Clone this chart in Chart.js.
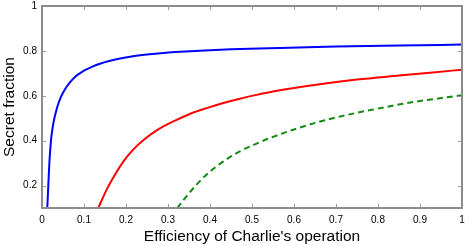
<!DOCTYPE html>
<html>
<head>
<meta charset="utf-8">
<script src="https://cdn.jsdelivr.net/npm/chart.js@4/dist/chart.umd.min.js"></script>
<style>
html,body{margin:0;padding:0;background:#fff;}
#wrap{width:474px;height:246px;}
</style>
</head>
<body>
<div id="wrap"><canvas id="c" width="474" height="246"></canvas></div>
<script>
// Data
const blueX = [0.0126,0.0150,0.0175,0.0214,0.0246,0.028,0.033,0.038,0.0444,0.051,0.0587,0.068,0.0786,0.090,0.102,0.120,0.138,0.160,0.186,0.220,0.250,0.290,0.329,0.400,0.450,0.567,0.700,0.850,1.0];
const blueY = [0.1,0.200,0.300,0.400,0.449,0.487,0.527,0.560,0.592,0.617,0.640,0.663,0.684,0.700,0.714,0.730,0.743,0.755,0.766,0.777,0.784,0.791,0.796,0.803,0.807,0.813,0.819,0.824,0.828];
const redX = [0.134,0.154,0.174,0.194,0.217,0.241,0.273,0.313,0.352,0.392,0.432,0.471,0.511,0.550,0.600,0.670,0.750,0.850,0.930,1.0];
const redY = [0.1,0.182,0.249,0.308,0.360,0.402,0.446,0.486,0.519,0.545,0.568,0.587,0.604,0.619,0.635,0.654,0.672,0.690,0.704,0.716];
const greenX = [0.322,0.344,0.368,0.392,0.432,0.471,0.511,0.543,0.600,0.662,0.720,0.781,0.884,1.0];
const greenY = [0.1,0.152,0.204,0.249,0.308,0.352,0.387,0.412,0.450,0.485,0.512,0.536,0.572,0.602];
const xTicks = [0,0.1,0.2,0.3,0.4,0.5,0.6,0.7,0.8,0.9,1];
const yTicks = [0.2,0.4,0.6,0.8,1];
const xTitle = "Efficiency of Charlie's operation";
const yTitle = "Secret fraction";

const toPts = (xs, ys) => xs.map((x, i) => ({x: x, y: ys[i]}));

const framePlugin = {
  id: 'frame',
  afterDatasetsDraw(chart) {
    const {ctx, chartArea: a, scales: {x, y}} = chart;
    ctx.save();
    ctx.strokeStyle = '#9a9a9a';
    ctx.lineWidth = 1;
    const tl = 4;
    xTicks.forEach(v => {
      const px = Math.round(x.getPixelForValue(v)) + 0.5;
      ctx.beginPath();
      ctx.moveTo(px, a.bottom); ctx.lineTo(px, a.bottom - tl);
      ctx.moveTo(px, a.top); ctx.lineTo(px, a.top + tl);
      ctx.stroke();
    });
    yTicks.forEach(v => {
      const py = Math.round(y.getPixelForValue(v)) + 0.5;
      ctx.beginPath();
      ctx.moveTo(a.left, py); ctx.lineTo(a.left + tl, py);
      ctx.moveTo(a.right, py); ctx.lineTo(a.right - tl, py);
      ctx.stroke();
    });
    ctx.strokeStyle = '#8c8c8c';
    ctx.lineWidth = 2;
    ctx.strokeRect(a.left, a.top, a.right - a.left, a.bottom - a.top);
    ctx.restore();
  }
};

const FONT = "'Liberation Sans', Arial, sans-serif";

new Chart(document.getElementById('c'), {
  type: 'line',
  data: {
    datasets: [
      {data: toPts(blueX, blueY), borderColor: '#0000ff', borderWidth: 2, pointRadius: 0, cubicInterpolationMode: 'monotone', fill: false},
      {data: toPts(redX, redY), borderColor: '#ff0000', borderWidth: 2, pointRadius: 0, cubicInterpolationMode: 'monotone', fill: false},
      {data: toPts(greenX, greenY), borderColor: '#138a13', borderWidth: 2, borderDash: [6, 4], pointRadius: 0, cubicInterpolationMode: 'monotone', fill: false}
    ]
  },
  options: {
    responsive: false,
    animation: false,
    layout: {padding: {top: 6, right: 12, left: 0, bottom: 0}},
    plugins: {legend: {display: false}, tooltip: {enabled: false}},
    scales: {
      x: {
        type: 'linear', min: 0, max: 1,
        afterFit(s) { s.height = 38; s.paddingLeft = 0; s.paddingRight = 0; },
        afterBuildTicks(s) { s.ticks = xTicks.map(v => ({value: v})); },
        grid: {display: false, drawTicks: false},
        border: {display: false},
        ticks: {padding: 6, color: '#000', font: {family: FONT, size: 10}, maxRotation: 0, autoSkip: false,
          callback: v => String(Math.round(v * 10) / 10)},
        title: {display: true, text: xTitle, color: '#000', font: {family: FONT, size: 15.5}, padding: {top: 0, bottom: 0}}
      },
      y: {
        type: 'linear', min: 0.1, max: 1,
        afterFit(s) { s.width = 42; s.paddingTop = 0; s.paddingBottom = 0; },
        afterBuildTicks(s) { s.ticks = yTicks.map(v => ({value: v})); },
        grid: {display: false, drawTicks: false},
        border: {display: false},
        ticks: {padding: 5, color: '#000', font: {family: FONT, size: 10},
          callback: v => String(Math.round(v * 10) / 10)},
        title: {display: true, text: yTitle, color: '#000', font: {family: FONT, size: 15.5}, padding: {top: 0, bottom: 0}}
      }
    }
  },
  plugins: [framePlugin]
});
</script>
</body>
</html>
